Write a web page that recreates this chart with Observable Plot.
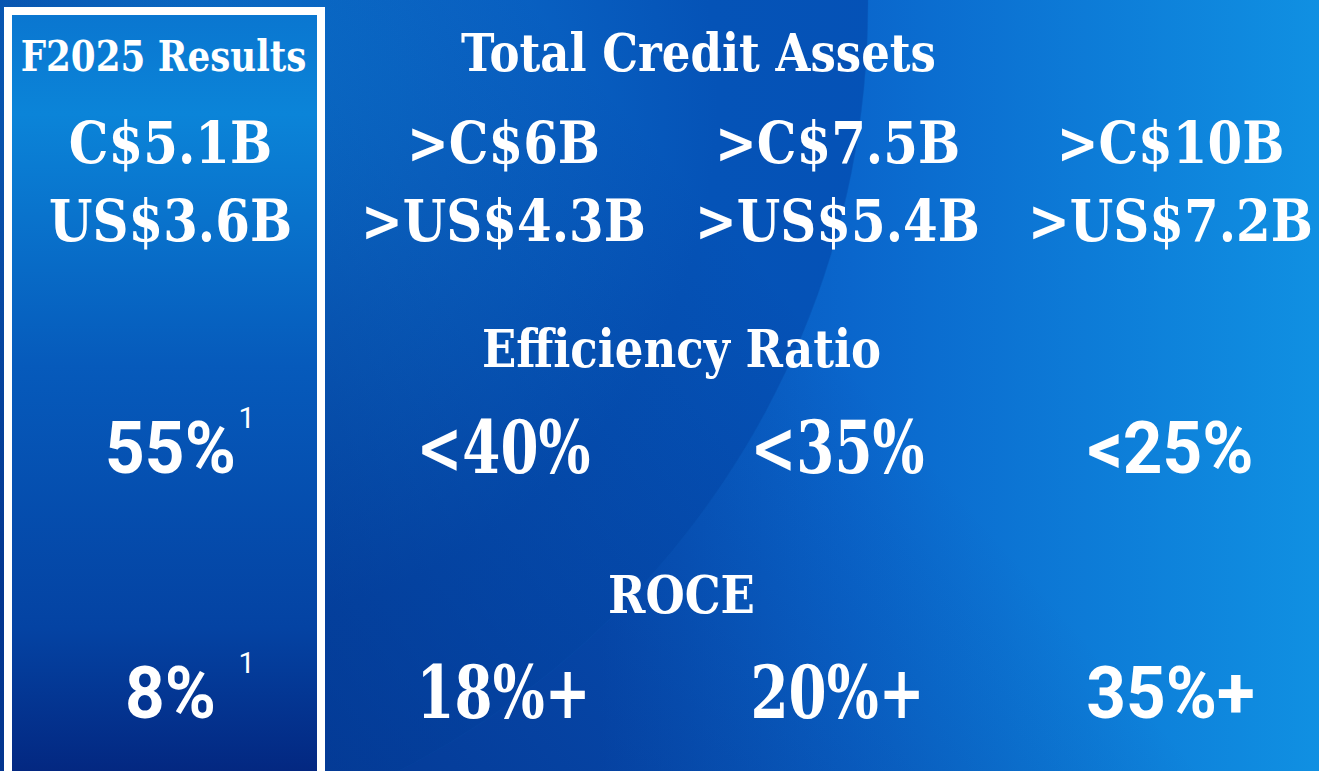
<!DOCTYPE html>
<html>
<head>
<meta charset="utf-8">
<script src="https://cdn.jsdelivr.net/npm/d3@7"></script>
<script src="https://cdn.jsdelivr.net/npm/@observablehq/plot@0.6"></script>
<style>
  html, body { margin: 0; padding: 0; overflow: hidden; background: #0650b5; }
  #chart svg { display: block; }
</style>
</head>
<body>
<div id="chart"></div>
<script>
// ---- data ----
const columns = ["F2025 Results", "Target 1", "Target 2", "Target 3"];
const metrics = ["Total Credit Assets", "Efficiency Ratio", "ROCE"];
const creditCAD = ["C$5.1B", ">C$6B", ">C$7.5B", ">C$10B"];
const creditUSD = ["US$3.6B", ">US$4.3B", ">US$5.4B", ">US$7.2B"];
const efficiency = ["55%", "<40%", "<35%", "<25%"];
const roce = ["8%", "18%+", "20%+", "35%+"];
const footnotes = [{metric: "Efficiency Ratio", col: 0, mark: "1"}, {metric: "ROCE", col: 0, mark: "1"}];

// ---- layout (rows of the grid) ----
const rowNames = ["title1", "cad", "usd", "title2", "eff", "title3", "roce"];
const rowIndex = Object.fromEntries(rowNames.map((r, i) => [r, i]));
const titleRow = {"Total Credit Assets": "title1", "Efficiency Ratio": "title2", "ROCE": "title3"};
const valueRow = {"Efficiency Ratio": "eff", "ROCE": "roce"};
// cells drawn with the sans face in the original slide
const sansCells = new Set(["eff:0", "eff:3", "roce:0", "roce:3"]);

const cells = [];
columns.forEach((c, i) => {
  cells.push({row: "cad", col: i, text: creditCAD[i]});
  cells.push({row: "usd", col: i, text: creditUSD[i]});
  cells.push({row: "eff", col: i, text: efficiency[i]});
  cells.push({row: "roce", col: i, text: roce[i]});
});
const isSans = d => sansCells.has(d.row + ":" + d.col);
const slabFont = "'DejaVu Serif', serif";
const sansFont = "Roboto, 'Liberation Sans', sans-serif";

function stops(grad, list) {
  list.forEach(([o, c, a]) => grad.append("stop").attr("offset", o).attr("stop-color", c).attr("stop-opacity", a ?? 1));
}

function background(index, scales, values, dims) {
  const {width, height} = dims;
  const g = d3.create("svg:g");
  const defs = g.append("defs");
  const out = defs.append("linearGradient").attr("id", "bgOut").attr("gradientUnits", "userSpaceOnUse")
    .attr("x1", 600).attr("y1", 0).attr("x2", width).attr("y2", 0);
  stops(out, [[0, "#0752b8"], [0.35, "#0a66cc"], [1, "#1090e2"]]);
  const inn = defs.append("radialGradient").attr("id", "bgIn").attr("gradientUnits", "userSpaceOnUse")
    .attr("cx", 190).attr("cy", 100).attr("r", 880);
  stops(inn, [[0, "#0b7ed8"], [0.3, "#0a66c6"], [0.6, "#0553b7"], [1, "#0550b5"]]);
  const shade = defs.append("linearGradient").attr("id", "bgShade").attr("gradientUnits", "userSpaceOnUse")
    .attr("x1", 150).attr("y1", 771).attr("x2", 750).attr("y2", 250);
  stops(shade, [[0, "#021f70", 0.55], [1, "#021f70", 0]]);
  const box = defs.append("linearGradient").attr("id", "bgBox").attr("x1", 0).attr("y1", 0).attr("x2", 0).attr("y2", 1);
  stops(box, [[0, "#0a76d0"], [0.13, "#0b84d8"], [0.45, "#065abb"], [0.78, "#0443a3"], [1, "#03227a"]]);
  g.append("rect").attr("width", width).attr("height", height).attr("fill", "url(#bgOut)");
  g.append("circle").attr("cx", 8).attr("cy", 5).attr("r", 860).attr("fill", "url(#bgIn)")
    .attr("stroke", "#0a5ec0").attr("stroke-opacity", 0.4).attr("stroke-width", 1);
  g.append("rect").attr("width", width).attr("height", height).attr("fill", "url(#bgShade)");
  // results box
  const cx = scales.x(0);
  g.append("rect").attr("x", cx - 162).attr("y", 11).attr("width", 313).attr("height", height + 20)
    .attr("fill", "url(#bgBox)").attr("stroke", "white").attr("stroke-width", 8);
  return g.node();
}

const yOf = r => rowIndex[r];
const titleStyle = {lineAnchor: "bottom", fill: "white", fontFamily: slabFont, fontWeight: "bold", fontSize: 53};

const plot = Plot.plot({
  width: 1319,
  height: 771,
  margin: 0,
  style: {background: "none", overflow: "hidden"},
  x: {type: "linear", domain: [0, 1, 2, 3], range: [170, 503, 837, 1170], axis: null},
  y: {type: "linear", domain: [0, 1, 2, 3, 4, 5, 6], range: [70, 162, 240, 366, 472, 612, 717], axis: null},
  marks: [
    background,
    // column header
    Plot.text([columns[0]], {x: () => 0, y: () => yOf("title1"), text: d => d, dx: -7,
      lineAnchor: "bottom", fill: "white", fontFamily: slabFont, fontWeight: "bold", fontSize: 42}),
    // metric titles
    Plot.text(metrics.slice(0, 1), {x: () => 1.5, y: d => yOf(titleRow[d]), text: d => d, dx: 28, ...titleStyle}),
    Plot.text(metrics.slice(1), {x: () => 1.5, y: d => yOf(titleRow[d]), text: d => d, dx: 11, ...titleStyle}),
    // currency values
    Plot.text(cells.filter(d => d.row === "cad" || d.row === "usd"), {x: "col", y: d => yOf(d.row), text: "text",
      lineAnchor: "bottom", fill: "white", fontFamily: slabFont, fontWeight: "bold", fontSize: 58}),
    // percentage values (slab)
    Plot.text(cells.filter(d => (d.row === "eff" || d.row === "roce") && !isSans(d)), {x: "col", y: d => yOf(d.row), text: "text",
      lineAnchor: "bottom", fill: "white", fontFamily: slabFont, fontWeight: "bold", fontSize: 72}),
    // percentage values (sans)
    Plot.text(cells.filter(d => (d.row === "eff" || d.row === "roce") && isSans(d)), {x: "col", y: d => yOf(d.row), text: "text",
      lineAnchor: "bottom", fill: "white", fontFamily: sansFont, fontWeight: "bold", fontSize: 73}),
    // footnote markers
    Plot.text(footnotes, {x: "col", y: d => yOf(valueRow[d.metric]), text: "mark", dx: 68, dy: -45,
      textAnchor: "start", lineAnchor: "bottom", fill: "white", fontFamily: sansFont, fontSize: 29})
  ]
});

// narrow the wide substitute slab face horizontally (keeps each label centred on its anchor)
const squeeze = {"42": 0.85, "53": 0.85, "58": 0.86, "72": 0.76, "73": 0.95};
d3.select(plot).selectAll("text").each(function() {
  let el = this, size = null;
  while (el && el !== plot) {
    const fs = el.getAttribute && el.getAttribute("font-size");
    if (fs) { size = String(parseFloat(fs)); break; }
    el = el.parentNode;
  }
  const s = squeeze[size];
  if (!s) return;
  const t = this.getAttribute("transform") || "";
  const m = /translate\(\s*([-\d.e]+)[ ,]+([-\d.e]+)\s*\)/.exec(t);
  let x, y;
  if (m) { x = +m[1]; y = +m[2]; }
  else { x = +(this.getAttribute("x") || 0); y = +(this.getAttribute("y") || 0); this.removeAttribute("x"); this.removeAttribute("y"); }
  this.setAttribute("transform", `translate(${x},${y}) scale(${s},1)`);
});

document.getElementById("chart").appendChild(plot);
</script>
</body>
</html>
